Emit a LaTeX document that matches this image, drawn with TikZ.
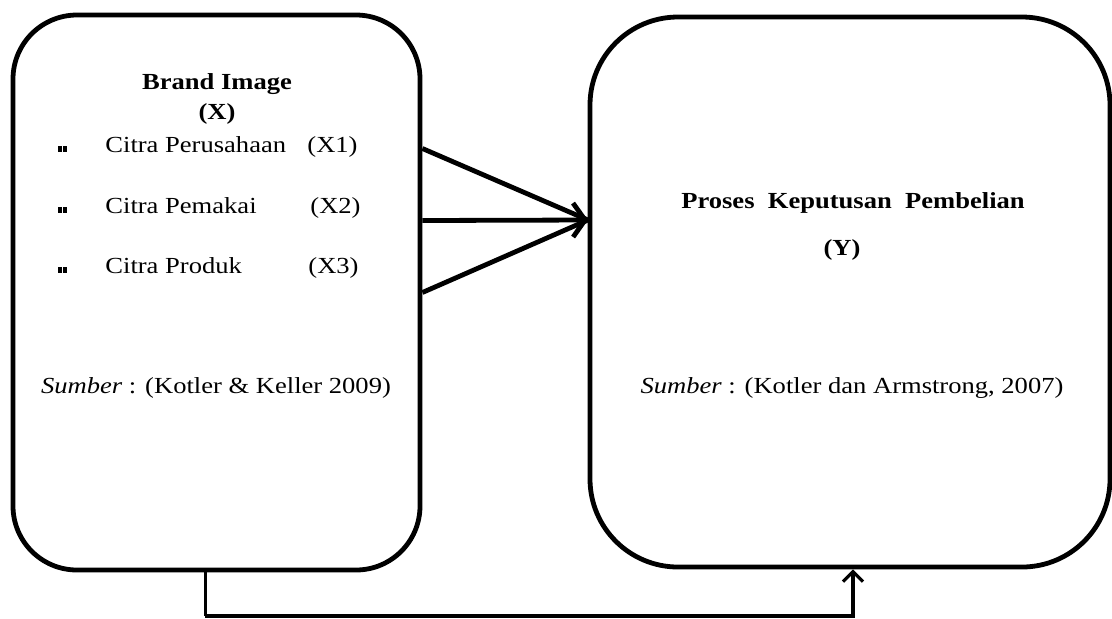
\documentclass[tikz,border=0pt]{standalone}
\usepackage{fontspec}
\setmainfont{Liberation Serif}[FakeStretch=1.155]
\usetikzlibrary{arrows.meta,calc}

\begin{document}
\begin{tikzpicture}[
                        x=0.5pt, y=-0.5pt,
                        >={Straight Barb[length=6pt,width=17pt]},
                        block/.style={rectangle, draw, line width=2.4pt},
                        txt/.style={font=\fontsize{11.5}{13}\selectfont, inner sep=0pt, anchor=base},
                        txtw/.style={txt, anchor=base west}
                    ]
                    \useasboundingbox (0,0) rectangle (1112,618);
                    % Blocks
                    \node [block, rounded corners=32pt, minimum width=203.5pt, minimum height=277.5pt] (X) at (216.5,292.5) {};
                    \node [block, rounded corners=44pt, minimum width=260pt, minimum height=275pt] (Y) at (850,292) {};
                    \coordinate (merge) at (588,220);

                    % Texts
                    \node [txt] (titleX) at (217,89) {\textbf{Brand Image}};
                    \node [txt] (codeX) at (217,119) {\textbf{(X)}};
                    \node [txtw] (x1) at (105,152) {Citra Perusahaan};
                    \node [txtw] (x1code) at (307,152) {(X1)};
                    \node [txtw] (x2) at (105,213) {Citra Pemakai};
                    \node [txtw] (x2code) at (310,213) {(X2)};
                    \node [txtw] (x3) at (105,273) {Citra Produk};
                    \node [txtw] (x3code) at (308,273) {(X3)};
                    \node [txt] (srcX) at (216,393) {\textit{Sumber} : (Kotler \& Keller 2009)};
                    \node [txt] (titleY) at (853,208) {\textbf{Proses\ \ Keputusan\ \ Pembelian}};
                    \node [txt] (codeY) at (842,255) {\textbf{(Y)}};
                    \node [txt] (srcY) at (852,393) {\textit{Sumber} : (Kotler dan Armstrong, 2007)};
                    \foreach \y in {146,207,267} {
                        \fill (58,\y) rectangle (62,\y+6);
                        \fill (63,\y) rectangle (67,\y+6);
                    }

                    % Connections
                    \draw [line width=2.4pt] ($(X.east)+(0,-144)$) -- (merge);
                    \draw [line width=2.4pt,->] ($(X.east)+(0,-72)$) -- (merge);
                    \draw [line width=2.4pt] (X.east) -- (merge);
                    \draw [line width=1.6pt,-{Straight Barb[length=5pt,width=10pt]}] ([xshift=-5.5pt]X.south) |- (205,616) -| ([xshift=1.5pt]Y.south);
                \end{tikzpicture}
\end{document}
